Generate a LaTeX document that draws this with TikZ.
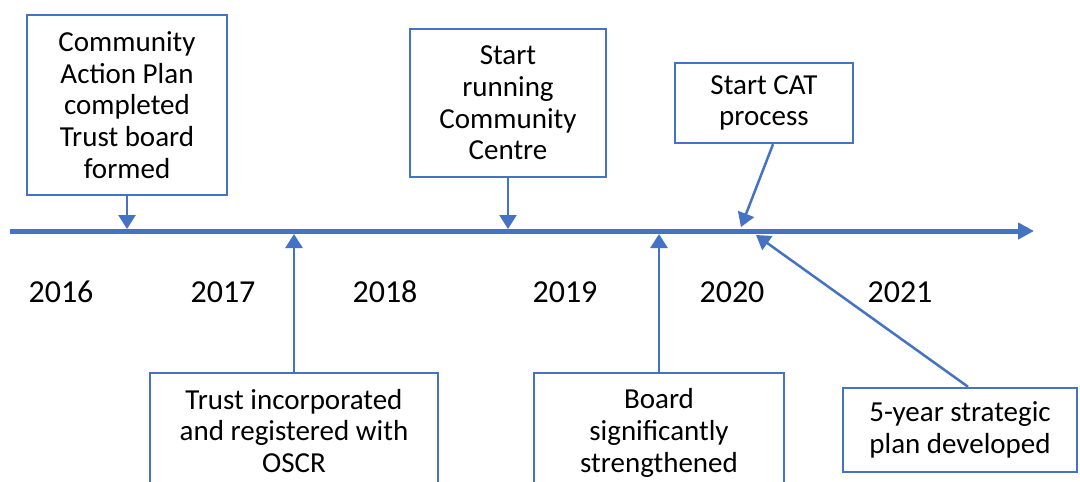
\documentclass[tikz,border=0pt]{standalone}
\usepackage{fontspec}
\setmainfont{Carlito}
\usetikzlibrary{arrows.meta}
\definecolor{oblue}{RGB}{68,114,196}
\begin{document}
\begin{tikzpicture}[x=1pt,y=-1pt,
  box/.style={draw=oblue,line width=2.5pt,fill=white,align=center,
    font=\fontsize{29}{31.7}\selectfont,inner sep=0pt},
  conn/.style={draw=oblue,line width=2.5pt,-{Triangle[width=17pt,length=14pt]}},
  axis/.style={draw=oblue,line width=5pt,-{Triangle[width=16pt,length=16pt]}},
  yr/.style={font=\fontsize{32}{38}\selectfont,inner sep=0pt}]
\useasboundingbox (0,0) rectangle (1080,482);
\clip (0,0) rectangle (1080,482);
\fill[white] (0,0) rectangle (1080,482);
% axis
\coordinate (a0) at (10,231);
\coordinate (a1) at (1034,231);
\draw[axis] (a0) -- (a1);
% boxes
\node[box,minimum width=200pt,minimum height=180pt] (b1) at (127,105)
  {Community\\Action Plan\\completed\\Trust board\\formed};
\node[box,minimum width=196pt,minimum height=148pt] (b2) at (508,103)
  {Start\\running\\Community\\Centre};
\node[box,minimum width=178pt,minimum height=80pt] (b3) at (764,103)
  {Start CAT\\process};
\node[box,minimum width=288pt,minimum height=116pt] (b4) at (294,431)
  {Trust incorporated\\and registered with\\OSCR};
\node[box,minimum width=250pt,minimum height=120pt] (b5) at (659,433)
  {Board\\significantly\\strengthened};
\node[box,minimum width=234pt,minimum height=84pt] (b6) at (960,430)
  {5-year strategic\\plan developed};
% points on axis
\coordinate (p1) at (127,229);
\coordinate (p2) at (508,229);
\coordinate (p3) at (741,227);
\coordinate (p4) at (294,234);
\coordinate (p5) at (659,234);
\coordinate (p6) at (756,235);
% connectors
\draw[conn] (b1.south) -- (p1);
\draw[conn] (b2.south) -- (p2);
\draw[conn] ([xshift=9pt]b3.south) -- (p3);
\draw[conn] (b4.north) -- (p4);
\draw[conn] (b5.north) -- (p5);
\draw[conn] ([xshift=8pt]b6.north) -- (p6);
% years
\node[yr] (y16) at (61,292) {2016};
\node[yr] (y17) at (223,292) {2017};
\node[yr] (y18) at (385,292) {2018};
\node[yr] (y19) at (565,292) {2019};
\node[yr] (y20) at (732,292) {2020};
\node[yr] (y21) at (900,292) {2021};
\end{tikzpicture}
\end{document}
